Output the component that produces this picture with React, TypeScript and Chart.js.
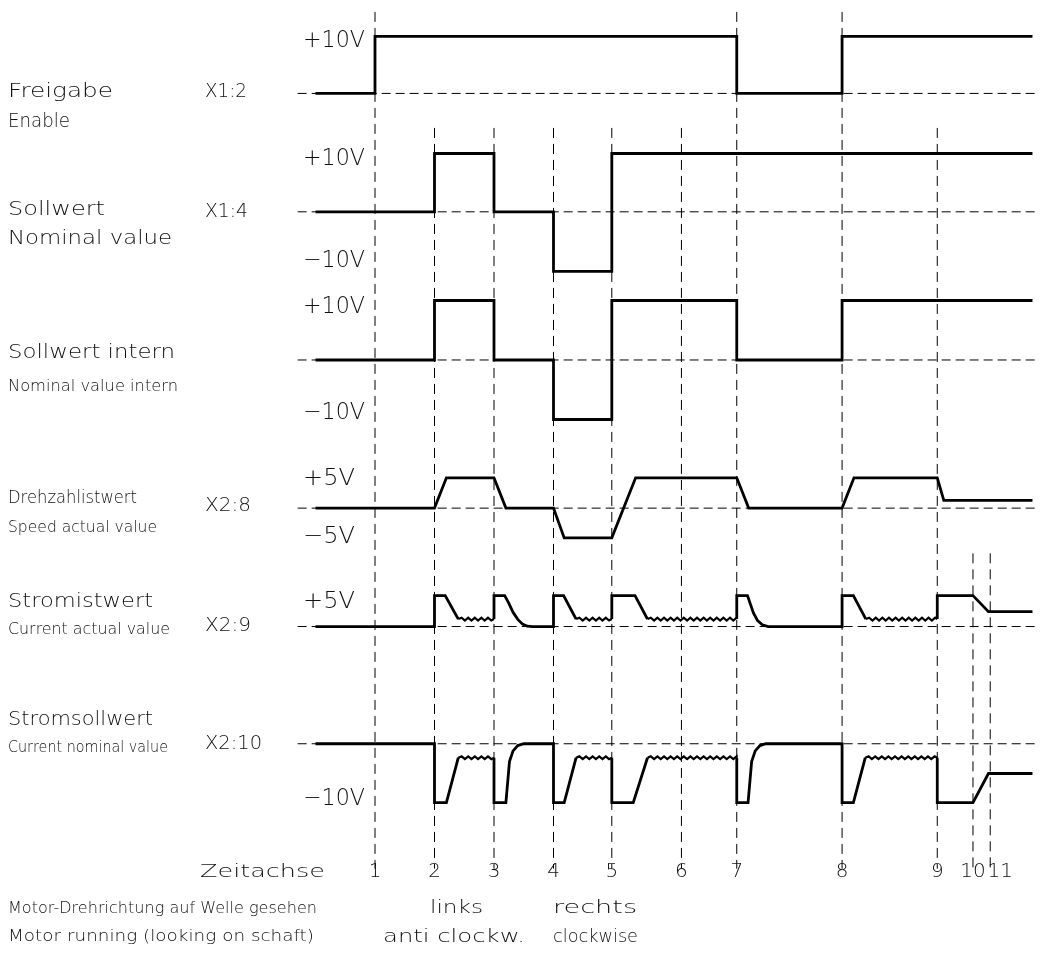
import React, { useEffect, useRef } from 'react';
import { Chart, registerables } from 'chart.js';

Chart.register(...registerables);

const W = 1046;
const H = 958;

// time axis (arbitrary units) — positions of the time markers 1..11
const MARKERS = [0, 10, 20, 30, 39.8, 51.5, 60.8, 78.5, 94.5, 100.5, 103.4];
const MARKER_LABELS = ['1', '2', '3', '4', '5', '6', '7', '8', '9', '10', '11'];
// upper end of each dashed marker line (chart units)
const MARKER_TOP = [-2, -21.5, -21.5, -21.5, -21.5, -21.5, -2, -2, -21.5, -93, -93];
const MARKER_BOTTOM = -146;

// baseline (0 V) of each channel in chart units
const CH_BASE = [-15.7, -35.6, -60.5, -85.4, -105.3, -125.0];
const BASE_FROM = -13;
const BASE_TO = 111;

// channel traces: [time, volts]
const FREIGABE: [number, number][] = [
  [-10, 0], [0, 0], [0, 9.6], [60.8, 9.6], [60.8, 0], [78.5, 0], [78.5, 9.6], [110.5, 9.6],
];
const SOLLWERT: [number, number][] = [
  [-10, 0], [10, 0], [10, 9.8], [20, 9.8], [20, 0], [30, 0], [30, -10], [39.8, -10], [39.8, 9.8], [110.5, 9.8],
];
const SOLLWERT_INTERN: [number, number][] = [
  [-10, 0], [10, 0], [10, 10], [20, 10], [20, 0], [30, 0], [30, -10], [39.8, -10], [39.8, 10],
  [60.8, 10], [60.8, 0], [78.5, 0], [78.5, 10], [110.5, 10],
];
const DREHZAHL: [number, number][] = [
  [-10, 0], [10, 0], [12, 5.1], [20, 5.1], [22, 0], [30, 0], [31.8, -5], [39.8, -5], [43.8, 5.1],
  [60.8, 5.1], [62.8, 0], [78.5, 0], [80.5, 5.1], [94.5, 5.1], [95.6, 1.3], [110.5, 1.3],
];
const STROMIST: [number, number][] = [
  [-10, 0], [10, 0], [10, 5.2], [11.8, 5.2], [14, 1.25], [20, 1.25],
  [20, 5.2], [21.8, 5.2], [22.5, 3.9], [23.2, 2.4], [24, 1.2], [24.8, 0.4], [25.6, 0.05], [26.5, 0],
  [30, 0], [30, 5.2], [31.7, 5.2], [33.8, 1.25], [39.8, 1.25],
  [39.8, 5.2], [43.7, 5.2], [45.8, 1.25], [60.8, 1.25],
  [60.8, 5.2], [62.6, 5.2], [63.6, 2.3], [64.3, 1.0], [65.1, 0.3], [66.1, 0],
  [78.5, 0], [78.5, 5.2], [80.4, 5.2], [82.5, 1.25], [94.5, 1.25],
  [94.5, 5.2], [100.5, 5.2], [103.1, 2.5], [110.5, 2.5],
];
const STROMIST_RIPPLE: [number, number, number][] = [
  [14, 20, 1.25], [33.8, 39.8, 1.25], [45.8, 60.8, 1.25], [82.5, 94.5, 1.25],
];
const STROMSOLL: [number, number][] = [
  [-10, 0], [10, 0], [10, -9.9], [12, -9.9], [14, -2.35], [20, -2.35],
  [20, -9.9], [22, -9.9], [22.6, -3], [23.2, -1.2], [24, -0.3], [25, 0],
  [30, 0], [30, -9.9], [31.8, -9.9], [33.8, -2.35], [39.8, -2.35],
  [39.8, -9.9], [43.4, -9.9], [45.8, -2.35], [60.8, -2.35],
  [60.8, -9.9], [62.7, -9.9], [63.3, -3], [63.9, -1.2], [64.7, -0.3], [65.7, 0],
  [78.5, 0], [78.5, -9.9], [80.4, -9.9], [82.4, -2.35], [94.5, -2.35],
  [94.5, -9.9], [100.5, -9.9], [103.1, -5], [110.5, -5],
];
const STROMSOLL_RIPPLE: [number, number, number][] = [
  [14, 20, -2.35], [33.8, 39.8, -2.35], [45.8, 60.8, -2.35], [82.4, 94.5, -2.35],
];

const TRACES = [FREIGABE, SOLLWERT, SOLLWERT_INTERN, DREHZAHL, STROMIST, STROMSOLL];
const RIPPLES: ([number, number, number][] | null)[] = [null, null, null, null, STROMIST_RIPPLE, STROMSOLL_RIPPLE];

// ---------- layout (pixels) ----------
const X_MIN = -375 / 5.95;
const X_MAX = (W - 375) / 5.95;
const Y_MIN = -H / 5.95;
const Y_MAX = 0;

const FONT = '"DejaVu Sans", sans-serif';
type Label = { text: string; x: number; y: number; size: number; w: number };
const LABELS: Label[] = [
  { text: 'Freigabe', x: 8, y: 97, size: 19, w: 105 },
  { text: 'Enable', x: 8, y: 127, size: 19, w: 62 },
  { text: 'X1:2', x: 205, y: 97, size: 19, w: 42 },
  { text: 'Sollwert', x: 8, y: 215, size: 19, w: 97 },
  { text: 'Nominal value', x: 8, y: 244, size: 19, w: 164 },
  { text: 'X1:4', x: 205, y: 217, size: 19, w: 43 },
  { text: 'Sollwert intern', x: 8, y: 358, size: 19, w: 167 },
  { text: 'Nominal value intern', x: 8, y: 391, size: 16, w: 170 },
  { text: 'Drehzahlistwert', x: 8, y: 503, size: 17, w: 129 },
  { text: 'Speed actual value', x: 8, y: 532, size: 16, w: 149 },
  { text: 'X2:8', x: 205, y: 511, size: 19, w: 46 },
  { text: 'Stromistwert', x: 8, y: 607, size: 19, w: 145 },
  { text: 'Current actual value', x: 8, y: 634, size: 16, w: 162 },
  { text: 'X2:9', x: 205, y: 631, size: 19, w: 46 },
  { text: 'Stromsollwert', x: 8, y: 725, size: 19, w: 145 },
  { text: 'Current nominal value', x: 8, y: 752, size: 16, w: 160 },
  { text: 'X2:10', x: 205, y: 749, size: 19, w: 57 },
  { text: 'Zeitachse', x: 200, y: 877, size: 18, w: 125 },
  { text: 'Motor-Drehrichtung auf Welle gesehen', x: 8, y: 913, size: 16, w: 309 },
  { text: 'Motor running (looking on schaft)', x: 8, y: 941, size: 16, w: 306 },
  { text: 'links', x: 430, y: 913, size: 18, w: 53 },
  { text: 'anti clockw.', x: 383, y: 942, size: 18, w: 142 },
  { text: 'rechts', x: 553, y: 913, size: 18, w: 84 },
  { text: 'clockwise', x: 553, y: 942, size: 18, w: 85 },
  { text: '+10V', x: 303, y: 47, size: 23, w: 62 },
  { text: '+10V', x: 303, y: 165, size: 23, w: 62 },
  { text: '\u221210V', x: 303, y: 267, size: 23, w: 62 },
  { text: '+10V', x: 303, y: 313, size: 23, w: 62 },
  { text: '\u221210V', x: 303, y: 419, size: 23, w: 62 },
  { text: '+5V', x: 303, y: 485, size: 23, w: 52 },
  { text: '\u22125V', x: 303, y: 543, size: 23, w: 52 },
  { text: '+5V', x: 303, y: 608, size: 23, w: 52 },
  { text: '\u221210V', x: 303, y: 805, size: 23, w: 62 },
];
const MARKER_LABEL_Y = 877;
const MARKER_LABEL_DX = [0, 0, 0, 0, 0, 0, 0, 0, 0, 0, 10];

function inRipple(r: [number, number, number][] | null, x0: number, x1: number) {
  if (!r) return false;
  return r.some(([a, b]) => Math.abs(x0 - a) < 1e-6 && Math.abs(x1 - b) < 1e-6);
}

const ripplePlugin = {
  id: 'ripple',
  afterDatasetsDraw(chart: any) {
    const ctx = chart.ctx;
    const xs = chart.scales.x;
    const ys = chart.scales.y;
    chart.data.datasets.forEach((ds: any) => {
      if (!ds.ripple) return;
      ds.ripple.forEach(([a, b, v]: [number, number, number]) => {
        const x0 = xs.getPixelForValue(a);
        const x1 = xs.getPixelForValue(b);
        const y = ys.getPixelForValue(ds.base + v);
        ctx.save();
        ctx.strokeStyle = '#000';
        ctx.lineWidth = 2.2;
        ctx.lineJoin = 'miter';
        ctx.beginPath();
        ctx.moveTo(x0, y);
        let x = x0;
        let k = 0;
        const half = 3.3;
        while (x + half < x1) {
          x += half;
          k++;
          ctx.lineTo(x, k % 2 ? y - 1.4 : y + 1.4);
        }
        ctx.lineTo(x1, y);
        ctx.stroke();
        ctx.restore();
      });
    });
  },
};

const textPlugin = {
  id: 'texts',
  afterDraw(chart: any) {
    const ctx = chart.ctx;
    ctx.save();
    ctx.fillStyle = '#111';
    ctx.textBaseline = 'alphabetic';
    LABELS.forEach((l) => {
      ctx.font = `300 ${l.size}px ${FONT}`;
      const m = ctx.measureText(l.text).width;
      ctx.save();
      ctx.translate(l.x, l.y);
      ctx.scale(l.w / m, 1);
      ctx.textAlign = 'left';
      ctx.fillText(l.text, 0, 0);
      ctx.restore();
    });
    ctx.font = `300 20px ${FONT}`;
    ctx.textAlign = 'center';
    MARKERS.forEach((t, i) => {
      const x = chart.scales.x.getPixelForValue(t) + MARKER_LABEL_DX[i];
      ctx.fillText(MARKER_LABELS[i], x, MARKER_LABEL_Y);
    });
    ctx.restore();
  },
};

export default function App() {
  const ref = useRef<HTMLCanvasElement>(null);
  useEffect(() => {
    const datasets: any[] = [];
    MARKERS.forEach((t, i) => {
      datasets.push({
        data: [{ x: t, y: MARKER_TOP[i] }, { x: t, y: MARKER_BOTTOM }],
        borderColor: '#000',
        borderWidth: 1,
        borderDash: [10, 6],
        pointRadius: 0,
        order: 3,
      });
    });
    CH_BASE.forEach((b) => {
      datasets.push({
        data: [{ x: BASE_FROM, y: b }, { x: BASE_TO, y: b }],
        borderColor: '#000',
        borderWidth: 1,
        borderDash: [9, 5],
        pointRadius: 0,
        order: 2,
      });
    });
    TRACES.forEach((tr, i) => {
      const r = RIPPLES[i];
      datasets.push({
        data: tr.map(([t, v]) => ({ x: t, y: CH_BASE[i] + v })),
        borderColor: '#000',
        borderWidth: 2.8,
        borderJoinStyle: 'miter',
        borderCapStyle: 'butt',
        pointRadius: 0,
        tension: 0,
        order: 1,
        ripple: r,
        base: CH_BASE[i],
        segment: {
          borderColor: (c: any) =>
            inRipple(r, c.p0.parsed.x, c.p1.parsed.x) ? 'rgba(0,0,0,0)' : undefined,
        },
      });
    });
    const chart = new Chart(ref.current as HTMLCanvasElement, {
      type: 'line',
      data: { datasets },
      options: {
        responsive: false,
        animation: false,
        devicePixelRatio: 1,
        layout: { padding: 0 },
        events: [],
        plugins: { legend: { display: false }, tooltip: { enabled: false } },
        scales: {
          x: { type: 'linear', min: X_MIN, max: X_MAX, display: false },
          y: { type: 'linear', min: Y_MIN, max: Y_MAX, display: false },
        },
      },
      plugins: [ripplePlugin, textPlugin],
    } as any);
    return () => chart.destroy();
  }, []);
  return (
    <div style={{ position: 'absolute', left: 0, top: 0, width: W, height: H, background: '#fff' }}>
      <canvas ref={ref} width={W} height={H} style={{ display: 'block', width: W, height: H }} />
    </div>
  );
}
